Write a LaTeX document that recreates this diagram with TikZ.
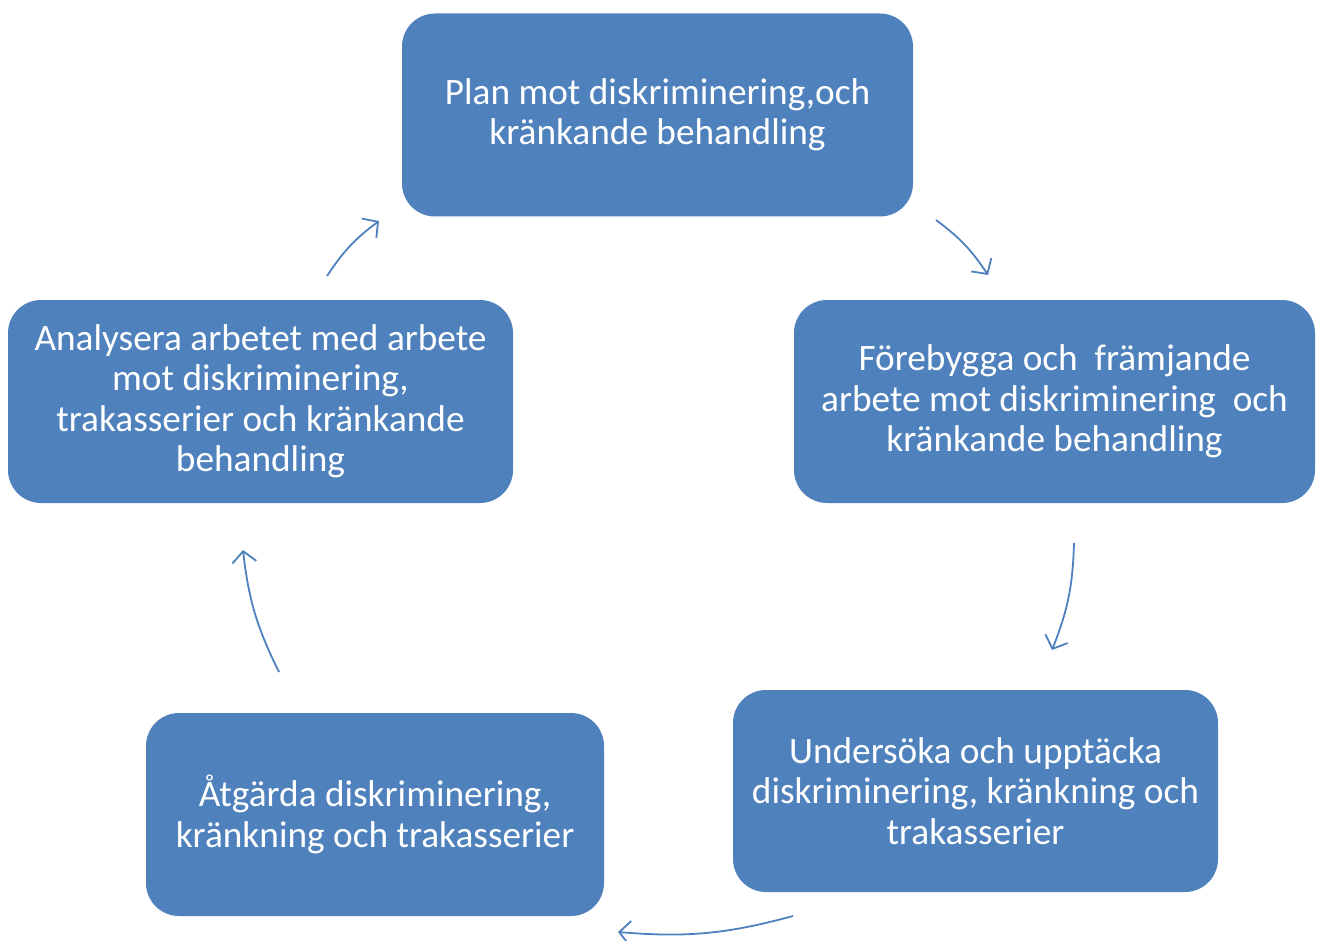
\documentclass[tikz,border=0pt]{standalone}
\usepackage{fontspec}
\setmainfont{Carlito}
\usetikzlibrary{arrows.meta}
\definecolor{boxblue}{HTML}{4F81BD}
\tikzset{
  cyclebox/.style={rectangle, rounded corners=33pt, fill=boxblue, draw=none,
    text=white, align=center, inner sep=0pt,
    font=\fontsize{37.3}{40.5}\selectfont},
  cyclearrow/.style={draw=boxblue, line width=1.8pt,
    -{Straight Barb[length=11pt,width=24pt,line width=1.8pt]}, bend left=10}
}
\begin{document}
\begin{tikzpicture}[x=1pt,y=-1pt]
\useasboundingbox (0,0) rectangle (1324,941);
\node[cyclebox, minimum width=511pt, minimum height=203pt] (plan) at (657.5,115)
  {Plan mot diskriminering,och\\kränkande behandling};
\node[cyclebox, minimum width=521pt, minimum height=203pt] (fore) at (1054.5,401.5)
  {Förebygga och\ \ främjande\\arbete mot diskriminering\ \ och\\kränkande behandling};
\node[cyclebox, minimum width=485pt, minimum height=202pt] (unders) at (975.5,791)
  {Undersöka och upptäcka\\diskriminering, kränkning och\\trakasserier};
\node[cyclebox, minimum width=458pt, minimum height=203pt] (atg) at (375,814.5)
  {Åtgärda diskriminering,\\kränkning och trakasserier};
\node[cyclebox, minimum width=505pt, minimum height=203pt] (anal) at (260.5,401.5)
  {Analysera arbetet med arbete\\mot diskriminering,\\trakasserier och kränkande\\behandling};
\coordinate (a1s) at (936,220);
\coordinate (a1e) at (988,275);
\coordinate (a2s) at (1074,543);
\coordinate (a2e) at (1052,650);
\coordinate (a3s) at (793,916);
\coordinate (a3e) at (618,932);
\coordinate (a4s) at (279,672);
\coordinate (a4e) at (243,550);
\coordinate (a5s) at (327,276);
\coordinate (a5e) at (379,221);
\draw[cyclearrow] (a1s) to (a1e);
\draw[cyclearrow] (a2s) to (a2e);
\draw[cyclearrow] (a3s) to (a3e);
\draw[cyclearrow] (a4s) to (a4e);
\draw[cyclearrow] (a5s) to (a5e);
\end{tikzpicture}
\end{document}
